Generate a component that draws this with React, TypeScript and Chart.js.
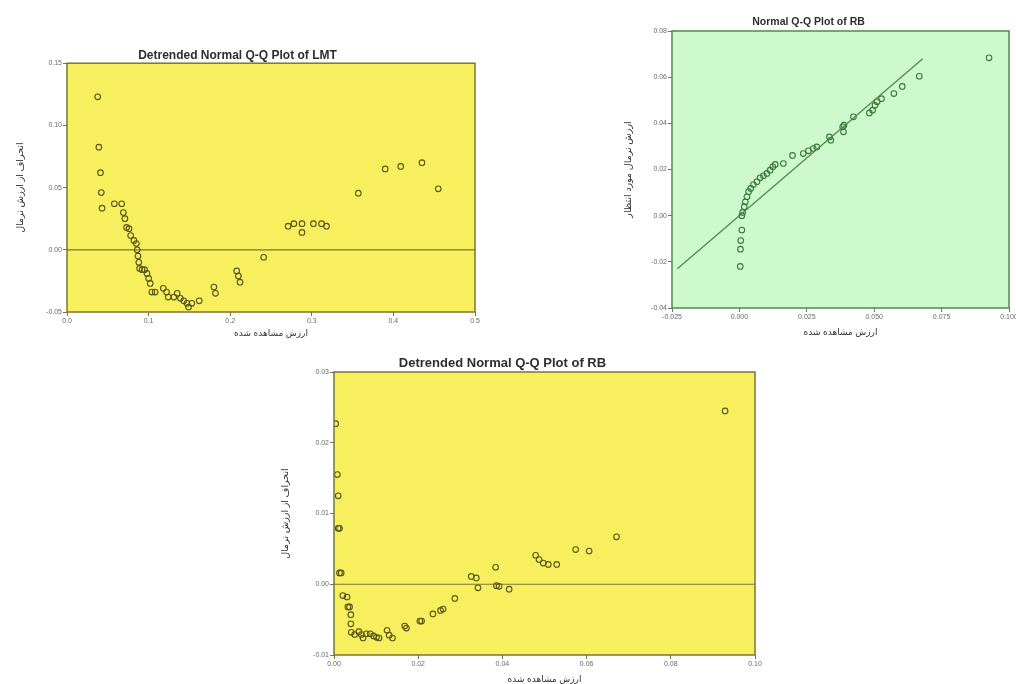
import React, { useEffect, useRef } from "react";
import { Chart, registerables } from "chart.js";

Chart.register(...registerables);

// ---------- shared text ----------
const xAxisTitle = "ارزش مشاهده شده";
const qqYTitle = "ارزش نرمال مورد انتظار";
const detYTitle = "انحراف از ارزش نرمال";

// ---------- Chart 1: Detrended Normal Q-Q Plot of LMT ----------
const lmtTitle = "Detrended Normal Q-Q Plot of LMT";
const lmtObserved = [
  0.0376, 0.039, 0.041, 0.042, 0.043, 0.058, 0.067, 0.069, 0.071, 0.073,
  0.076, 0.078, 0.082, 0.085, 0.086, 0.087, 0.088, 0.089, 0.092, 0.095,
  0.098, 0.1, 0.102, 0.104, 0.108, 0.118, 0.122, 0.124, 0.131, 0.135,
  0.139, 0.143, 0.147, 0.149, 0.153, 0.162, 0.18, 0.182, 0.208, 0.21,
  0.212, 0.241, 0.271, 0.278, 0.288, 0.288, 0.302, 0.312, 0.318, 0.357,
  0.39, 0.409, 0.435, 0.455,
];
const lmtDeviation = [
  0.123, 0.0825, 0.062, 0.046, 0.0335, 0.037, 0.037, 0.03, 0.025, 0.018,
  0.017, 0.0115, 0.0075, 0.005, 0.0, -0.005, -0.01, -0.015, -0.016, -0.016,
  -0.019, -0.023, -0.027, -0.034, -0.034, -0.031, -0.034, -0.038, -0.038, -0.035,
  -0.039, -0.041, -0.043, -0.046, -0.043, -0.041, -0.03, -0.035, -0.017, -0.021,
  -0.026, -0.006, 0.019, 0.021, 0.021, 0.014, 0.021, 0.021, 0.019, 0.0455,
  0.065, 0.067, 0.07, 0.049,
];
const lmtXTicks = [0, 0.1, 0.2, 0.3, 0.4, 0.5];
const lmtXLabels = ["0.0", "0.1", "0.2", "0.3", "0.4", "0.5"];
const lmtYTicks = [-0.05, 0, 0.05, 0.1, 0.15];
const lmtYLabels = ["-0.05", "0.00", "0.05", "0.10", "0.15"];

// ---------- Chart 2: Normal Q-Q Plot of RB ----------
const rbTitle = "Normal Q-Q Plot of RB";
const rbObserved = [
  0.0003, 0.0004, 0.0005, 0.0009, 0.0009, 0.0012, 0.0018, 0.0022, 0.0028, 0.0034,
  0.0042, 0.0052, 0.0065, 0.0077, 0.0089, 0.0102, 0.0114, 0.0124, 0.0133, 0.0163,
  0.0197, 0.0237, 0.0256, 0.0274, 0.0287, 0.0334, 0.0339, 0.0383, 0.0388, 0.0386,
  0.0423, 0.0482, 0.0494, 0.0503, 0.0511, 0.0527, 0.0573, 0.0604, 0.0667, 0.0926,
];
const rbExpected = [
  -0.022, -0.0145, -0.0108, -0.0062, 0.0, 0.0014, 0.0039, 0.006, 0.0082, 0.0104,
  0.0118, 0.0135, 0.0147, 0.0164, 0.0173, 0.0183, 0.0197, 0.0212, 0.0222, 0.0226,
  0.0261, 0.0269, 0.0281, 0.0291, 0.0298, 0.0341, 0.0327, 0.0385, 0.0392, 0.0363,
  0.0428, 0.0445, 0.0457, 0.0478, 0.0493, 0.0507, 0.0529, 0.056, 0.0604, 0.0684,
];
const rbLineX = [-0.023, 0.068];
const rbLineY = [-0.023, 0.068];
const rbXTicks = [-0.025, 0, 0.025, 0.05, 0.075, 0.1];
const rbXLabels = ["-0.025", "0.000", "0.025", "0.050", "0.075", "0.100"];
const rbYTicks = [-0.04, -0.02, 0, 0.02, 0.04, 0.06, 0.08];
const rbYLabels = ["-0.04", "-0.02", "0.00", "0.02", "0.04", "0.06", "0.08"];

// ---------- Chart 3: Detrended Normal Q-Q Plot of RB ----------
const rbDetTitle = "Detrended Normal Q-Q Plot of RB";
const rbDetObserved = [
  0.0004, 0.0008, 0.001, 0.001, 0.0013, 0.0013, 0.0017, 0.0021, 0.0031, 0.0033,
  0.0037, 0.004, 0.004, 0.0041, 0.0049, 0.0059, 0.0065, 0.0069, 0.0077, 0.0086,
  0.0094, 0.0101, 0.0107, 0.0126, 0.0131, 0.0139, 0.0168, 0.0172, 0.0204, 0.0208,
  0.0235, 0.0253, 0.0259, 0.0287, 0.0326, 0.0338, 0.0342, 0.0384, 0.0386, 0.0392,
  0.0416, 0.0479, 0.0487, 0.0497, 0.0509, 0.0529, 0.0574, 0.0606, 0.0671, 0.0929,
];
const rbDeviation = [
  0.0227, 0.0155, 0.0125, 0.0079, 0.0079, 0.0016, 0.0016, -0.0016, -0.0018, -0.0032,
  -0.0032, -0.0043, -0.0056, -0.0068, -0.0071, -0.0067, -0.0071, -0.0076, -0.007, -0.007,
  -0.0073, -0.0075, -0.0076, -0.0065, -0.0072, -0.0076, -0.0059, -0.0062, -0.0052, -0.0052,
  -0.0042, -0.0037, -0.0035, -0.002, 0.0011, 0.0009, -0.0005, 0.0024, -0.0002, -0.0003,
  -0.0007, 0.0041, 0.0035, 0.003, 0.0028, 0.0028, 0.0049, 0.0047, 0.0067, 0.0245,
];
const rbDetXTicks = [0, 0.02, 0.04, 0.06, 0.08, 0.1];
const rbDetXLabels = ["0.00", "0.02", "0.04", "0.06", "0.08", "0.10"];
const rbDetYTicks = [-0.01, 0, 0.01, 0.02, 0.03];
const rbDetYLabels = ["-0.01", "0.00", "0.01", "0.02", "0.03"];

const FONT = "Arial, 'Liberation Sans', 'DejaVu Sans', sans-serif";

const framePlugin = {
  id: "frame",
  beforeDraw(chart: any, _args: any, opts: any) {
    const { ctx, chartArea: a } = chart;
    ctx.save();
    ctx.fillStyle = opts.bg;
    ctx.fillRect(a.left, a.top, a.right - a.left, a.bottom - a.top);
    ctx.restore();
  },
  beforeDatasetsDraw(chart: any, _args: any, opts: any) {
    if (!opts.zero) return;
    const { ctx, chartArea: a } = chart;
    const y = chart.scales.y.getPixelForValue(0);
    ctx.save();
    ctx.strokeStyle = opts.zeroColor;
    ctx.lineWidth = 1.2;
    ctx.beginPath();
    ctx.moveTo(a.left, y);
    ctx.lineTo(a.right, y);
    ctx.stroke();
    ctx.restore();
  },
  afterDraw(chart: any, _args: any, opts: any) {
    const { ctx, chartArea: a } = chart;
    ctx.save();
    ctx.strokeStyle = opts.border;
    ctx.lineWidth = 1.5;
    ctx.strokeRect(a.left, a.top, a.right - a.left, a.bottom - a.top);
    ctx.restore();
  },
};

interface Opts {
  xs: number[];
  ys: number[];
  lineX?: number[];
  lineY?: number[];
  title: string;
  titleSize: number;
  titlePad: { top: number; bottom: number };
  yTitle: string;
  yTitlePad: number;
  xTitlePad: number;
  xTicks: number[];
  xLabels: string[];
  yTicks: number[];
  yLabels: string[];
  yWidth: number;
  xHeight: number;
  padRight: number;
  bg: string;
  border: string;
  pointColor: string;
  zero: boolean;
}

function makeConfig(o: Opts): any {
  const datasets: any[] = [
    {
      type: "scatter",
      data: o.xs.map((x, i) => ({ x, y: o.ys[i] })),
      pointRadius: 2.8,
      pointHoverRadius: 2.8,
      pointBorderWidth: 1.1,
      pointBorderColor: o.pointColor,
      pointBackgroundColor: "rgba(0,0,0,0)",
      showLine: false,
      order: 1,
    },
  ];
  if (o.lineX && o.lineY) {
    datasets.push({
      type: "line",
      data: o.lineX.map((x, i) => ({ x, y: o.lineY![i] })),
      borderColor: o.border,
      borderWidth: 1.3,
      pointRadius: 0,
      fill: false,
      order: 0,
    });
  }
  const tickFont = { size: 7, family: FONT };
  return {
    type: "scatter",
    data: { datasets },
    plugins: [framePlugin],
    options: {
      animation: false,
      responsive: false,
      events: [],
      layout: { padding: { left: 0, right: o.padRight, top: 0, bottom: 0 } },
      plugins: {
        legend: { display: false },
        tooltip: { enabled: false },
        title: {
          display: true,
          text: o.title,
          color: "#2e2e2e",
          font: { size: o.titleSize, weight: "bold", family: FONT },
          padding: o.titlePad,
        },
        frame: { bg: o.bg, border: o.border, zero: o.zero, zeroColor: o.border },
      },
      scales: {
        x: {
          type: "linear",
          min: o.xTicks[0],
          max: o.xTicks[o.xTicks.length - 1],
          afterBuildTicks: (s: any) => {
            s.ticks = o.xTicks.map((v) => ({ value: v }));
          },
          afterFit: (s: any) => {
            s.height = o.xHeight;
            s.paddingLeft = 0;
            s.paddingRight = 0;
          },
          ticks: {
            callback: (_v: any, i: number) => o.xLabels[i],
            font: tickFont,
            color: "#6a6a6a",
            padding: 1,
            maxRotation: 0,
            autoSkip: false,
          },
          grid: { drawOnChartArea: false, drawTicks: true, tickLength: 4, color: o.border },
          border: { display: false },
          title: {
            display: true,
            text: xAxisTitle,
            color: "#333333",
            font: { size: 9, family: FONT },
            padding: { top: 0, bottom: o.xTitlePad },
          },
        },
        y: {
          type: "linear",
          min: o.yTicks[0],
          max: o.yTicks[o.yTicks.length - 1],
          afterBuildTicks: (s: any) => {
            s.ticks = o.yTicks.map((v) => ({ value: v }));
          },
          afterFit: (s: any) => {
            s.width = o.yWidth;
            s.paddingTop = 0;
            s.paddingBottom = 0;
          },
          ticks: {
            callback: (_v: any, i: number) => o.yLabels[i],
            font: tickFont,
            color: "#6a6a6a",
            padding: 1,
            autoSkip: false,
          },
          grid: { drawOnChartArea: false, drawTicks: true, tickLength: 4, color: o.border },
          border: { display: false },
          title: {
            display: true,
            text: o.yTitle,
            color: "#333333",
            font: { size: 9.5, family: FONT },
            padding: { top: o.yTitlePad, bottom: 0 },
          },
        },
      },
    },
  };
}

function ChartBox(props: { left: number; top: number; width: number; height: number; config: any }) {
  const ref = useRef<HTMLCanvasElement>(null);
  useEffect(() => {
    const chart = new Chart(ref.current as HTMLCanvasElement, props.config);
    return () => chart.destroy();
  }, []);
  return (
    <canvas
      ref={ref}
      width={props.width}
      height={props.height}
      style={{ position: "absolute", left: props.left, top: props.top, width: props.width, height: props.height }}
    />
  );
}

const YELLOW = "#f7ef5e";
const OLIVE = "#77773a";
const GREEN = "#cdf9cd";
const DKGREEN = "#4f8a4f";

export default function App() {
  const c1 = makeConfig({
    xs: lmtObserved,
    ys: lmtDeviation,
    title: lmtTitle,
    titleSize: 12,
    titlePad: { top: 8.8, bottom: 0 },
    yTitle: detYTitle,
    yTitlePad: 14.6,
    xTitlePad: 5.6,
    xTicks: lmtXTicks,
    xLabels: lmtXLabels,
    yTicks: lmtYTicks,
    yLabels: lmtYLabels,
    yWidth: 67,
    xHeight: 33,
    padRight: 11,
    bg: YELLOW,
    border: OLIVE,
    pointColor: "#55551a",
    zero: true,
  });
  const c2 = makeConfig({
    xs: rbObserved,
    ys: rbExpected,
    lineX: rbLineX,
    lineY: rbLineY,
    title: rbTitle,
    titleSize: 10.5,
    titlePad: { top: 15.7, bottom: 2.7 },
    yTitle: qqYTitle,
    yTitlePad: 14.6,
    xTitlePad: 6.6,
    xTicks: rbXTicks,
    xLabels: rbXLabels,
    yTicks: rbYTicks,
    yLabels: rbYLabels,
    yWidth: 64,
    xHeight: 37,
    padRight: 15,
    bg: GREEN,
    border: DKGREEN,
    pointColor: "#3a763a",
    zero: false,
  });
  const c3 = makeConfig({
    xs: rbDetObserved,
    ys: rbDeviation,
    title: rbDetTitle,
    titleSize: 13,
    titlePad: { top: 15.2, bottom: 1.2 },
    yTitle: detYTitle,
    yTitlePad: 29.6,
    xTitlePad: 0.6,
    xTicks: rbDetXTicks,
    xLabels: rbDetXLabels,
    yTicks: rbDetYTicks,
    yLabels: rbDetYLabels,
    yWidth: 84,
    xHeight: 31,
    padRight: 17,
    bg: YELLOW,
    border: OLIVE,
    pointColor: "#55551a",
    zero: true,
  });
  return (
    <div
      style={{
        position: "absolute",
        left: 0,
        top: 0,
        width: 1016,
        height: 684,
        overflow: "hidden",
        background: "#ffffff",
      }}
    >
      <ChartBox left={0} top={40} width={486} height={305} config={c1} />
      <ChartBox left={608} top={0} width={416} height={345} config={c2} />
      <ChartBox left={250} top={340} width={522} height={346} config={c3} />
    </div>
  );
}
